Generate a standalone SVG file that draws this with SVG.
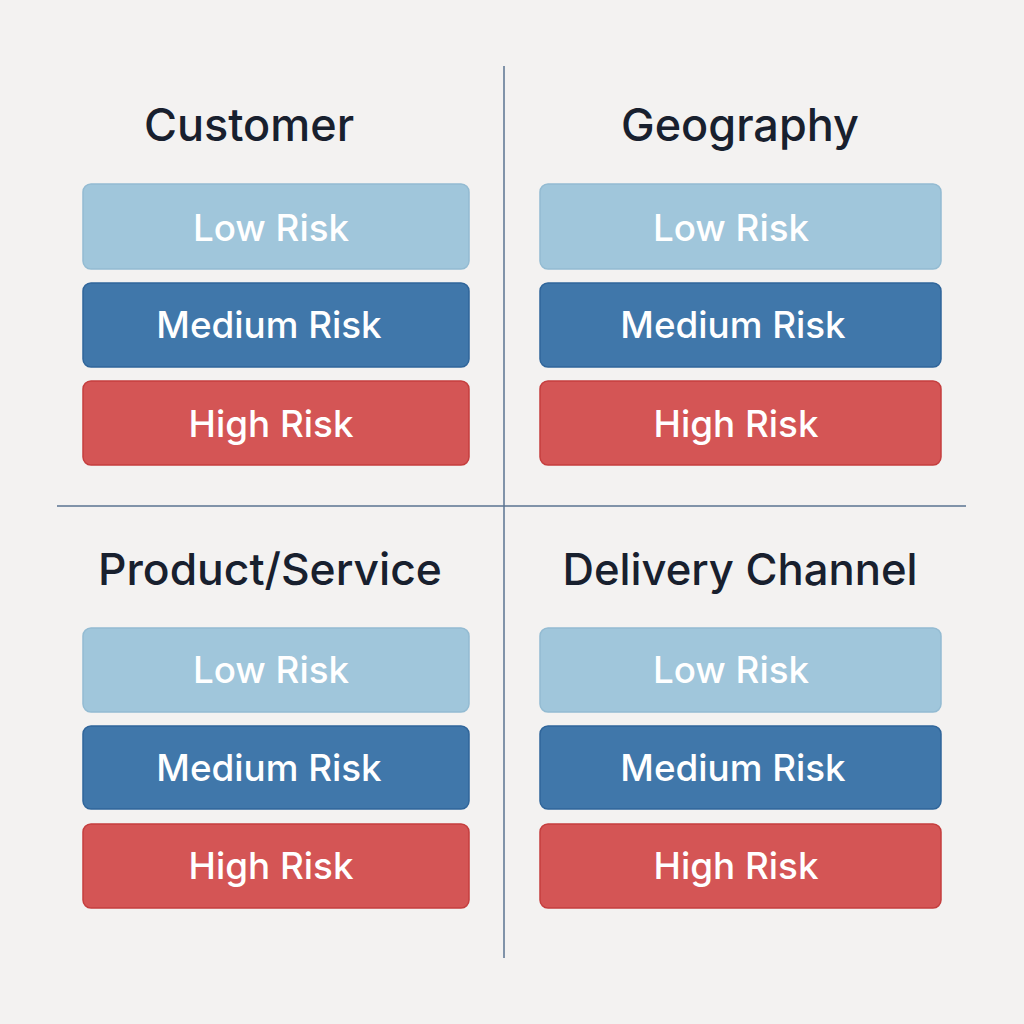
<svg xmlns="http://www.w3.org/2000/svg" width="1024" height="1024" viewBox="0 0 1024 1024">
<style>
.title{font-family:Inter,"Noto Sans",sans-serif;font-size:45px;font-weight:500;fill:#18202e;text-anchor:middle}
.lbl{font-family:Inter,"Noto Sans",sans-serif;font-size:36.8px;font-weight:500;fill:#ffffff;text-anchor:middle}
.low{fill:#a0c6db;stroke:#93bbd2;stroke-width:1.5}
.med{fill:#4077aa;stroke:#2f659a;stroke-width:1.5}
.high{fill:#d45555;stroke:#c53e3e;stroke-width:1.5}
.div{stroke:#5a7390;stroke-width:1.5}
</style>
<rect width="1024" height="1024" fill="#f3f2f1"/>
<g id="connectors">
<line class="div" x1="504" y1="66" x2="504" y2="958"/>
<line class="div" x1="57" y1="506" x2="966" y2="506"/>
</g>
<g id="customer">
<text class="title" x="249" y="141">Customer</text>
<rect class="low" x="83" y="184" width="386" height="85" rx="8"/>
<text class="lbl" x="271" y="241">Low Risk</text>
<rect class="med" x="83" y="283" width="386" height="84" rx="8"/>
<text class="lbl" x="269" y="338">Medium Risk</text>
<rect class="high" x="83" y="381" width="386" height="84" rx="8"/>
<text class="lbl" x="271" y="437">High Risk</text>
</g>
<g id="geography">
<text class="title" x="740" y="141">Geography</text>
<rect class="low" x="540" y="184" width="401" height="85" rx="8"/>
<text class="lbl" x="731" y="241">Low Risk</text>
<rect class="med" x="540" y="283" width="401" height="84" rx="8"/>
<text class="lbl" x="733" y="338">Medium Risk</text>
<rect class="high" x="540" y="381" width="401" height="84" rx="8"/>
<text class="lbl" x="736" y="437">High Risk</text>
</g>
<g id="product">
<text class="title" x="270" y="585" style="font-size:44.4px">Product/Service</text>
<rect class="low" x="83" y="628" width="386" height="84" rx="8"/>
<text class="lbl" x="271" y="683">Low Risk</text>
<rect class="med" x="83" y="726" width="386" height="83" rx="8"/>
<text class="lbl" x="269" y="781">Medium Risk</text>
<rect class="high" x="83" y="824" width="386" height="84" rx="8"/>
<text class="lbl" x="271" y="879">High Risk</text>
</g>
<g id="delivery">
<text class="title" x="740" y="585" style="font-size:43.6px">Delivery Channel</text>
<rect class="low" x="540" y="628" width="401" height="84" rx="8"/>
<text class="lbl" x="731" y="683">Low Risk</text>
<rect class="med" x="540" y="726" width="401" height="83" rx="8"/>
<text class="lbl" x="733" y="781">Medium Risk</text>
<rect class="high" x="540" y="824" width="401" height="84" rx="8"/>
<text class="lbl" x="736" y="879">High Risk</text>
</g>
</svg>
